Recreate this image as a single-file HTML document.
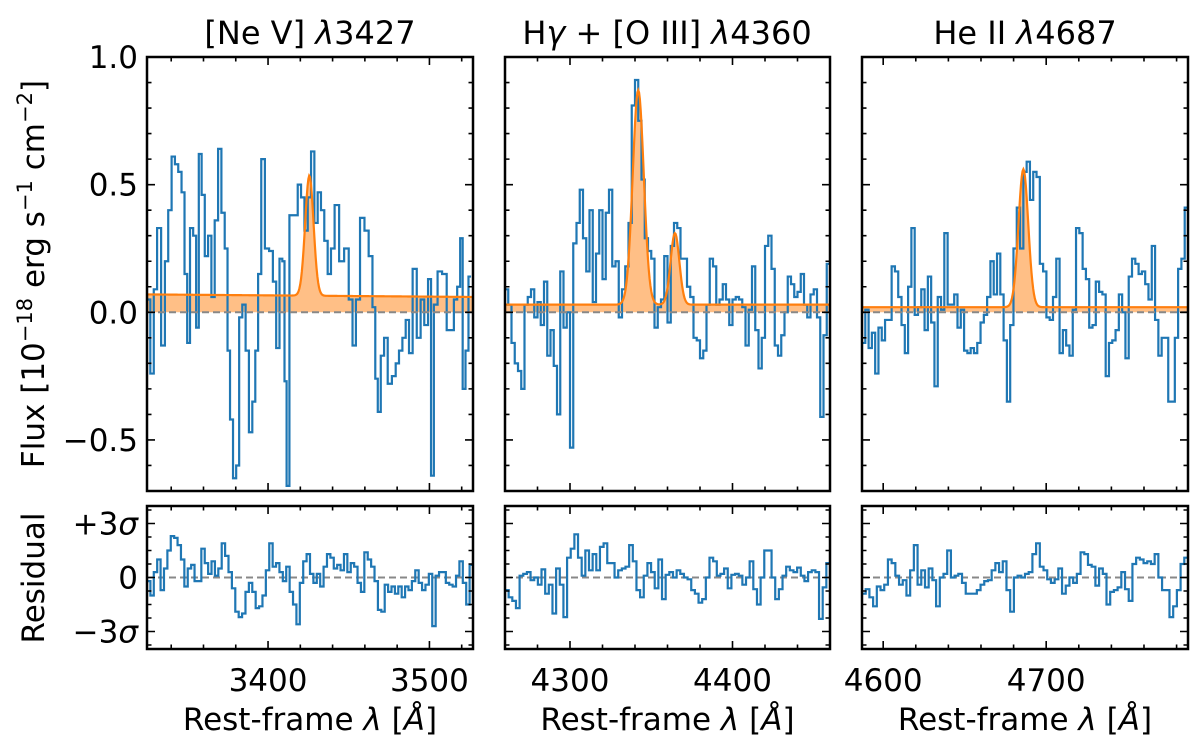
<!DOCTYPE html>
<html><head><meta charset="utf-8"><style>
html,body{margin:0;padding:0;background:#fff;}
svg{display:block;font-family:"DejaVu Sans","Liberation Sans",sans-serif;}
</style></head><body>
<svg id="fig" width="1200" height="748" viewBox="0 0 1200 748" xmlns="http://www.w3.org/2000/svg">
<text x="310" y="44" font-size="32" text-anchor="middle">[Ne V] <tspan font-style="italic">λ</tspan>3427</text>
<text x="667" y="44" font-size="32" text-anchor="middle">H<tspan font-style="italic">γ</tspan> + [O III] <tspan font-style="italic">λ</tspan>4360</text>
<text x="1025" y="44" font-size="32" text-anchor="middle">He II <tspan font-style="italic">λ</tspan>4687</text>
<text transform="translate(44,274) rotate(-90)" font-size="31" text-anchor="middle">Flux [10<tspan dy="-12" font-size="21">−18</tspan><tspan dy="12"> erg s</tspan><tspan dy="-12" font-size="21">−1</tspan><tspan dy="12"> cm</tspan><tspan dy="-12" font-size="21">−2</tspan><tspan dy="12">]</tspan></text>
<text transform="translate(44,578) rotate(-90)" font-size="31" text-anchor="middle">Residual</text>
<g id="panels"></g>
</svg>
<script>
// ---- Panel 1: [Ne V] 3427 ----
const p1Lambda=[3325.8,3328.3,3330.1,3332.4,3335.1,3337.1,3339.2,3341.3,3343.3,3345.4,3347.4,3349.1,3350.7,3352.6,3354.6,3356.3,3357.9,3359.8,3361.8,3363.9,3365.9,3368.0,3370.1,3372.1,3374.2,3375.6,3377.3,3379.3,3381.2,3383.0,3385.1,3387.1,3389.2,3391.3,3392.9,3394.8,3396.8,3399.3,3402.0,3404.0,3406.1,3408.1,3409.6,3410.8,3412.2,3414.3,3417.4,3419.4,3421.5,3423.6,3425.6,3427.7,3429.7,3431.8,3433.8,3435.9,3438.0,3440.0,3442.5,3445.6,3448.7,3451.3,3453.4,3455.5,3458.5,3461.0,3463.7,3465.7,3467.2,3468.8,3470.9,3472.9,3475.4,3478.1,3480.1,3482.2,3484.3,3486.3,3488.4,3490.8,3493.5,3495.6,3498.0,3500.3,3501.7,3503.8,3506.3,3509.4,3512.0,3514.1,3516.2,3518.2,3519.9,3521.3,3523.4,3525.0];
const p1Flux=[0.05,-0.24,0.09,0.33,-0.13,0.2,0.4,0.61,0.58,0.55,0.47,0.15,-0.12,0.33,0.3,-0.06,0.62,0.46,0.22,0.3,0.06,0.36,0.64,0.39,0.25,-0.15,-0.42,-0.65,-0.6,-0.02,0.03,-0.15,-0.47,-0.35,-0.15,0.15,0.6,0.25,0.24,0.12,-0.14,0.21,0.2,-0.27,-0.68,0.38,0.38,0.5,0.45,0.32,0.45,0.63,0.35,0.47,0.4,0.28,0.15,0.25,0.42,0.2,0.25,0.05,-0.13,0.05,0.37,0.32,0.22,0.02,-0.26,-0.39,-0.17,-0.1,-0.28,-0.25,-0.2,-0.15,-0.1,-0.03,-0.16,0.17,-0.1,0.05,-0.05,0.13,-0.64,0.03,0.16,0.15,-0.07,-0.07,0.05,0.1,0.29,-0.3,-0.15,0.14];
const p1Resid=[-0.2,-1.0,0.3,1.0,-0.7,0.5,1.5,2.3,2.2,1.8,1.0,-0.5,0.5,0.7,-0.2,-0.2,1.6,0.8,0.2,0.9,0.1,0.5,1.9,1.2,0.3,-0.6,-1.9,-2.2,-2.0,-0.8,-0.3,-0.8,-1.7,-1.6,-1.0,0.4,1.9,0.6,0.8,0.3,-0.2,0.6,-0.8,-1.5,-2.6,-0.3,0.9,1.3,0.2,-0.3,0.2,-0.5,0.6,1.3,1.1,0.5,0.7,0.4,1.3,0.3,0.8,0.6,-0.3,-0.8,1.4,1.0,0.6,-0.2,-1.8,-1.9,-0.4,-0.8,-0.5,-0.9,-0.5,-1.1,-0.5,-0.7,-0.2,0.4,-0.3,-0.7,-0.4,0.2,-2.7,0.1,0.3,0.3,-0.3,-0.4,-0.5,0.1,0.9,-0.3,-1.5,0.7];
const p1Continuum=[0.07,0.06];
const p1LineCenters=[3425.6];
const p1LineAmps=[0.47];
const p1LineSigmas=[2.6];
const p1XTicks=[3400,3500];

// ---- Panel 2: Hgamma + [O III] 4363 ----
const p2Range=[4260,4460];
const p2Flux=[0.09,0.03,-0.12,-0.2,-0.23,-0.3,0.03,0.06,0.09,-0.02,0.04,-0.05,0.12,-0.17,-0.07,-0.21,-0.4,0.16,-0.06,0.0,-0.53,0.27,0.35,0.48,0.29,0.16,0.4,0.04,0.23,0.4,0.13,0.39,0.48,0.18,0.2,-0.02,0.09,0.18,0.35,0.81,0.91,0.75,0.52,0.29,0.24,0.21,-0.06,0.02,0.05,0.22,-0.04,0.26,0.35,0.33,0.21,0.21,0.1,0.06,-0.1,-0.11,-0.18,-0.15,0.03,0.21,0.18,0.03,0.05,0.11,0.05,-0.05,0.05,0.06,0.05,0.02,-0.13,0.01,0.18,-0.07,-0.22,-0.1,0.26,0.3,0.17,-0.13,-0.17,-0.09,0.0,0.14,0.11,0.06,0.08,0.15,0.03,-0.02,0.07,0.09,-0.02,-0.41,-0.09,0.19];
const p2Resid=[-0.7,-1.1,-1.3,-1.7,0.1,0.2,0.3,-0.15,0.0,-0.4,0.45,-0.9,-0.4,-2.0,0.5,-0.4,-2.2,1.1,1.6,2.4,1.1,0.1,1.5,0.4,1.3,0.4,1.7,1.9,0.8,0.8,0.0,0.4,0.5,0.6,1.8,0.9,-0.7,-1.1,0.1,0.8,0.3,-0.6,1.0,-1.2,0.15,0.3,0.0,0.4,0.2,0.0,-0.1,-0.7,-0.9,-1.4,-1.2,0.0,1.1,0.9,0.1,0.2,0.5,-0.6,0.15,0.2,0.1,-0.4,0.0,0.9,-0.65,-1.5,0.0,1.5,1.5,0.0,-1.2,-0.65,0.1,0.6,0.4,0.3,0.55,0.1,-0.2,0.3,0.4,0.3,-2.3,-0.55,0.8];
const p2Continuum=[0.03,0.03];
const p2LineCenters=[4342.0,4364.6];
const p2LineAmps=[0.84,0.28];
const p2LineSigmas=[3.4,2.7];
const p2XTicks=[4300,4400];

// ---- Panel 3: He II 4687 ----
const p3Range=[4587,4787];
const p3Flux=[-0.12,0.01,-0.14,-0.08,-0.24,-0.06,-0.11,-0.03,-0.03,0.18,0.16,0.06,-0.05,-0.16,0.1,0.33,-0.01,0.02,0.09,-0.07,0.14,-0.04,-0.29,0.06,0.01,0.31,0.03,0.03,0.07,-0.06,0.01,-0.15,-0.16,-0.14,-0.16,-0.12,-0.04,-0.01,0.06,0.2,0.07,0.23,0.07,-0.11,-0.35,-0.05,0.25,0.41,0.25,0.55,0.59,0.44,0.55,0.53,0.19,0.16,-0.02,-0.03,0.06,0.21,-0.16,-0.07,-0.13,-0.17,0.01,0.33,0.31,0.17,0.13,-0.06,-0.05,0.12,0.08,0.07,-0.25,-0.12,-0.11,-0.07,0.07,0.0,-0.18,0.14,0.21,0.19,0.15,0.16,0.11,0.05,0.26,-0.03,-0.17,-0.1,-0.1,-0.35,-0.35,-0.1,0.17,0.21,0.41];
const p3Resid=[-0.9,-0.65,-1.1,-1.6,-0.5,-0.7,-0.4,1.0,0.8,0.1,-0.4,-0.15,-1.0,0.4,1.8,-0.4,0.4,-0.55,0.5,-0.15,-1.6,0.0,0.2,1.5,0.0,0.1,0.2,-0.3,-0.9,-0.9,-0.9,-0.7,-0.4,-0.2,-0.15,0.4,0.8,0.3,0.9,-0.7,-1.9,0.0,0.1,0.0,0.2,0.3,1.3,1.9,0.6,0.4,-0.1,-0.3,-0.1,0.5,-0.9,-0.45,0.0,-0.3,0.2,1.4,1.3,0.7,0.6,-0.45,0.5,0.2,-1.5,-0.8,-0.7,-0.55,0.3,-0.65,-1.3,0.75,1.1,1.0,0.8,0.9,0.75,1.3,0.0,-0.7,-0.7,-2.2,-1.6,-0.7,0.75,1.1];
const p3Continuum=[0.02,0.02];
const p3LineCenters=[4686.0];
const p3LineAmps=[0.54];
const p3LineSigmas=[3.0];
const p3XTicks=[4600,4700];

const yTicksMain=[1.0,0.5,0.0,-0.5];
const yTickLabelsMain=["1.0","0.5","0.0","−0.5"];
const yTicksRes=[3,0,-3];
const yTickLabelsRes=["+3","0","−3"];

const NS="http://www.w3.org/2000/svg";
const root=document.getElementById('panels');
const MT=57,MB=491,RT=506,RB=649;
function yMain(v){return MT+(1.0-v)/1.7*(MB-MT);}
function yRes(s){return 577.5-s*18;}
function mk(tag,attrs,parent){const e=document.createElementNS(NS,tag);for(const k in attrs)e.setAttribute(k,attrs[k]);(parent||root).appendChild(e);return e;}

function uniformCenters(range,n){const w=(range[1]-range[0])/n;const c=[];for(let i=0;i<n;i++)c.push(range[0]+w*(i+0.5));return c;}
function stepPath(lams,vals,xf,yf){
  const n=Math.min(lams.length,vals.length);let d="";
  for(let i=0;i<n;i++){
    const lo=i===0?lams[0]-(lams[1]-lams[0])/2:(lams[i-1]+lams[i])/2;
    const hi=i===n-1?lams[n-1]+(lams[n-1]-lams[n-2])/2:(lams[i]+lams[i+1])/2;
    d+=(i===0?"M":"L")+xf(lo).toFixed(2)+","+yf(vals[i]).toFixed(2)+"L"+xf(hi).toFixed(2)+","+yf(vals[i]).toFixed(2);
  }
  return d;
}
function model(l,xmin,xmax,cont,cen,amp,sig){
  let v=cont[0]+(cont[1]-cont[0])*(l-xmin)/(xmax-xmin);
  for(let k=0;k<cen.length;k++)v+=amp[k]*Math.exp(-0.5*Math.pow((l-cen[k])/sig[k],2));
  return v;
}

function drawPanel(idx,L,R,xmin,xmax,lams,flux,resid,cont,cen,amp,sig,xticks,showY){
  const xf=l=>L+(l-xmin)/(xmax-xmin)*(R-L);
  const g=mk('g',{});
  
  
  const cp=mk('clipPath',{id:'cm'+idx},g);mk('rect',{x:L,y:MT,width:R-L,height:MB-MT},cp);
  const cr=mk('clipPath',{id:'cr'+idx},g);mk('rect',{x:L,y:RT,width:R-L,height:RB-RT},cr);
  const gm=mk('g',{'clip-path':'url(#cm'+idx+')'},g);
  let dl="",df="M"+xf(xmin).toFixed(2)+","+yMain(0).toFixed(2);
  for(let i=0;i<=400;i++){const l=xmin+(xmax-xmin)*i/400;const v=model(l,xmin,xmax,cont,cen,amp,sig);
    const p=xf(l).toFixed(2)+","+yMain(v).toFixed(2);dl+=(i?"L":"M")+p;df+="L"+p;}
  df+="L"+xf(xmax).toFixed(2)+","+yMain(0).toFixed(2)+"Z";
  const fill=mk('path',{d:df,fill:'#ffbf86',stroke:'none'},gm);
  
  
  const spec=mk('path',{d:stepPath(lams,flux,xf,yMain),fill:'none',stroke:'#1f77b4','stroke-width':2.2,'stroke-linejoin':'miter'},gm);
  
  
  const mline=mk('path',{d:dl,fill:'none',stroke:'#ff7f0e','stroke-width':2.2},gm);
  
  
  const z=mk('line',{x1:L,x2:R,y1:yMain(0),y2:yMain(0),stroke:'#888','stroke-width':2,'stroke-dasharray':'7,4'},gm);
  
  
  const gr=mk('g',{'clip-path':'url(#cr'+idx+')'},g);
  const rl=uniformCenters([xmin,xmax],resid.length);
  const rz=mk('line',{x1:L,x2:R,y1:yRes(0),y2:yRes(0),stroke:'#888','stroke-width':2,'stroke-dasharray':'7,4'},gr);
  
  
  const rs=mk('path',{d:stepPath(rl,resid,xf,yRes),fill:'none',stroke:'#1f77b4','stroke-width':2.2},gr);
  
  
  let td="";
  const x0=Math.ceil(xmin/20)*20;
  for(let t=x0;t<=xmax;t+=20){const x=xf(t).toFixed(2);const len=(t%100===0)?8:4.5;
    td+=`M${x},${MT}v${len}M${x},${MB}v${-len}M${x},${RT}v${len}M${x},${RB}v${-len}`;}
  for(let v=-0.7;v<=1.0001;v+=0.1){const y=yMain(v).toFixed(2);const maj=Math.abs(Math.round(v*10)%5)===0;const len=maj?8:4.5;
    td+=`M${L},${y}h${len}M${R},${y}h${-len}`;}
  for(let s=-3.75;s<=3.76;s+=0.75){const y=yRes(s).toFixed(2);const maj=Math.abs(s)<0.01||Math.abs(Math.abs(s)-3)<0.01;const len=maj?8:4.5;
    td+=`M${L},${y}h${len}M${R},${y}h${-len}`;}
  mk('path',{d:td,stroke:'#000','stroke-width':1.6,fill:'none'},g);
  const f1=mk('rect',{x:L,y:MT,width:R-L,height:MB-MT,fill:'none',stroke:'#000','stroke-width':2.5},g);
  
  
  const f2=mk('rect',{x:L,y:RT,width:R-L,height:RB-RT,fill:'none',stroke:'#000','stroke-width':2.5},g);
  
  
  for(const t of xticks){const tx=mk('text',{x:xf(t),y:691,'font-size':31,'text-anchor':'middle'},g);tx.textContent=String(t);
    
    }
  const xl=mk('text',{x:(L+R)/2,y:730,'font-size':31,'text-anchor':'middle'},g);
  xl.innerHTML='Rest-frame <tspan font-style="italic">λ</tspan> [<tspan font-style="italic">Å</tspan>]';
  
  
  if(showY){
    yTicksMain.forEach((v,i)=>{const t=mk('text',{x:L-9,y:yMain(v)+11,'font-size':31,'text-anchor':'end'},g);t.textContent=yTickLabelsMain[i];
      
      });
    yTicksRes.forEach((v,i)=>{const t=mk('text',{x:L-9,y:yRes(v)+11,'font-size':31,'text-anchor':'end'},g);
      t.textContent=yTickLabelsRes[i];
      if(v!==0){const s=mk('tspan',{'font-style':'italic'},t);s.textContent='σ';}
      
      });
  }
}
drawPanel(1,147,473,3325,3527,p1Lambda,p1Flux,p1Resid,p1Continuum,p1LineCenters,p1LineAmps,p1LineSigmas,p1XTicks,true);
drawPanel(2,505,830,p2Range[0],p2Range[1],uniformCenters(p2Range,p2Flux.length),p2Flux,p2Resid,p2Continuum,p2LineCenters,p2LineAmps,p2LineSigmas,p2XTicks,false);
drawPanel(3,862,1188,p3Range[0],p3Range[1],uniformCenters(p3Range,p3Flux.length),p3Flux,p3Resid,p3Continuum,p3LineCenters,p3LineAmps,p3LineSigmas,p3XTicks,false);
</script>
</body></html>
